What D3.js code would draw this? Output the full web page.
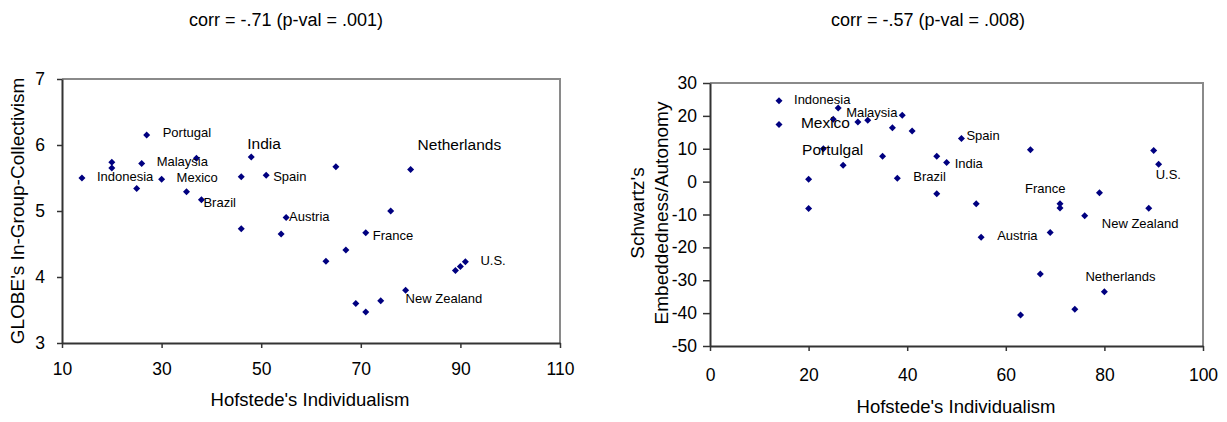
<!DOCTYPE html>
<html>
<head>
<meta charset="utf-8">
<script src="https://cdn.jsdelivr.net/npm/d3@7"></script>
<style>
  html, body { margin: 0; padding: 0; background: #fff; }
  svg { display: block; font-family: "Liberation Sans", Arial, sans-serif; }
</style>
</head>
<body>
<svg id="chart" width="1227" height="422"></svg>
<script>
// ---------- data ----------
const leftTitle = "corr = -.71 (p-val = .001)";
const rightTitle = "corr = -.57 (p-val = .008)";
const xAxisTitle = "Hofstede's Individualism";
const leftYTitle = "GLOBE's In-Group-Collectivism";
const rightYTitle = ["Schwartz's", "Embeddedness/Autonomy"];

const leftXTicks = [10, 30, 50, 70, 90, 110];
const leftYTicks = [3, 4, 5, 6, 7];
const rightXTicks = [0, 20, 40, 60, 80, 100];
const rightYTicks = [-50, -40, -30, -20, -10, 0, 10, 20, 30];

const leftIndividualism = [14, 20, 20, 27, 26, 25, 30, 37, 35, 38, 46, 48, 51, 55, 46, 54, 65, 80, 76, 71, 67, 63, 91, 90, 89, 79, 74, 69, 71];
const leftCollectivism  = [5.50, 5.74, 5.65, 6.15, 5.72, 5.34, 5.48, 5.80, 5.29, 5.17, 5.52, 5.82, 5.54, 4.90, 4.73, 4.65, 5.67, 5.63, 5.00, 4.67, 4.41, 4.24, 4.23, 4.16, 4.10, 3.80, 3.64, 3.60, 3.47];

const rightIndividualism = [14, 14, 26, 25, 30, 32, 39, 37, 41, 23, 35, 27, 20, 38, 20, 51, 46, 48, 65, 90, 91, 46, 54, 79, 71, 71, 76, 89, 55, 69, 67, 80, 74, 63];
const rightEmbeddedness  = [24.6, 17.4, 22.4, 19.0, 18.1, 18.7, 20.2, 16.4, 15.4, 10.0, 7.7, 5.0, 0.7, 1.0, -8.2, 13.1, 7.7, 5.8, 9.7, 9.5, 5.3, -3.7, -6.7, -3.4, -6.7, -8.0, -10.4, -8.1, -16.9, -15.5, -28.1, -33.5, -38.8, -40.6];

const leftLabelNames   = ["Portugal", "India", "Malaysia", "Indonesia", "Mexico", "Brazil", "Spain", "Austria", "Netherlands", "France", "U.S.", "New Zealand"];
const leftLabelPoint   = [3, 11, 4, 0, 6, 9, 12, 13, 17, 19, 22, 25];
const rightLabelNames  = ["Indonesia", "Malaysia", "Mexico", "Portulgal", "Brazil", "Spain", "India", "France", "U.S.", "New Zealand", "Austria", "Netherlands"];
const rightLabelPoint  = [0, 2, 4, 11, 13, 15, 17, 24, 20, 27, 28, 31];

// ---------- layout (pixel offsets / sizes, not data) ----------
const leftLabelLayout = [
  {dx: 16, dy: 2, big: false}, {dx: -4, dy: -8, big: true}, {dx: 15, dy: 3, big: false},
  {dx: 15, dy: 3, big: false}, {dx: 15, dy: 3, big: false}, {dx: 2, dy: 7, big: false},
  {dx: 7, dy: 6, big: false}, {dx: 3, dy: 3, big: false}, {dx: 7, dy: -19, big: true},
  {dx: 7, dy: 7, big: false}, {dx: 15, dy: 3, big: false}, {dx: 0, dy: 13, big: false}
];
const rightLabelLayout = [
  {dx: 15, dy: 3, big: false}, {dx: 8, dy: 9, big: false}, {dx: -57, dy: 6, big: true},
  {dx: -41, dy: -10, big: true}, {dx: 16, dy: 3, big: false}, {dx: 5, dy: 1, big: false},
  {dx: 8, dy: 5, big: false}, {dx: -35, dy: -11, big: false}, {dx: -3, dy: 15, big: false},
  {dx: -47, dy: 20, big: false}, {dx: 16, dy: 3, big: false}, {dx: -19, dy: -11, big: false}
];

const svg = d3.select("#chart");
const MARK = "#000080";

function diamond(r) { return `M0,${-r}L${r},0L0,${r}L${-r},0Z`; }

function drawPanel(cfg) {
  const x = d3.scaleLinear().domain(cfg.xDomain).range([cfg.left, cfg.right]);
  const y = d3.scaleLinear().domain(cfg.yDomain).range([cfg.bottom, cfg.top]);
  const g = svg.append("g");

  // title
  g.append("text").attr("x", cfg.titleX).attr("y", cfg.titleY)
    .attr("text-anchor", "middle").attr("font-size", 18).attr("fill", "#000")
    .text(cfg.title);

  // plot border (top/right grey)
  g.append("path")
    .attr("d", `M${cfg.left},${cfg.top}H${cfg.right}V${cfg.bottom}`)
    .attr("fill", "none").attr("stroke", "#8a8a8a").attr("stroke-width", 2);

  // axes
  const xAxis = d3.axisBottom(x).tickValues(cfg.xTicks).tickSizeInner(5).tickSizeOuter(0).tickPadding(cfg.xPad).tickFormat(d => String(d));
  const yAxis = d3.axisLeft(y).tickValues(cfg.yTicks).tickSizeInner(cfg.yTick).tickSizeOuter(0).tickPadding(cfg.yPad).tickFormat(d => String(d));

  const gx = g.append("g").attr("transform", `translate(0,${cfg.bottom})`).call(xAxis);
  const gy = g.append("g").attr("transform", `translate(${cfg.left},0)`).call(yAxis);
  [gx, gy].forEach(a => {
    a.select(".domain").attr("stroke", "#333").attr("stroke-width", 2);
    a.selectAll(".tick line").attr("stroke", "#333").attr("stroke-width", 1.5);
    a.selectAll(".tick text").attr("font-size", 17.5).attr("fill", "#000")
      .attr("font-family", '"Liberation Sans", Arial, sans-serif');
  });
  gx.selectAll(".tick text").attr("dy", null).attr("y", cfg.xLabelBase).attr("dominant-baseline", "alphabetic");

  // axis titles
  g.append("text").attr("x", cfg.xTitleX).attr("y", cfg.xTitleY)
    .attr("text-anchor", "middle").attr("font-size", 18.5).attr("fill", "#000")
    .text(xAxisTitle);
  cfg.yTitles.forEach((t, i) => {
    g.append("text")
      .attr("transform", `translate(${cfg.yTitleX[i]},${cfg.yTitleY}) rotate(-90)`)
      .attr("text-anchor", "middle").attr("dominant-baseline", "central")
      .attr("font-size", 19).attr("fill", "#000")
      .text(t);
  });

  // points
  g.append("g").selectAll("path").data(cfg.xs.map((v, i) => [v, cfg.ys[i]]))
    .join("path")
    .attr("d", diamond(3.5))
    .attr("transform", d => `translate(${x(d[0])},${y(d[1])})`)
    .attr("fill", MARK);

  // labels
  g.append("g").selectAll("text").data(cfg.labelNames.map((n, i) => ({n, p: cfg.labelPoint[i], l: cfg.labelLayout[i]})))
    .join("text")
    .attr("x", d => x(cfg.xs[d.p]) + d.l.dx)
    .attr("y", d => y(cfg.ys[d.p]) + d.l.dy)
    .attr("font-size", d => d.l.big ? 15.5 : 13)
    .attr("fill", "#000")
    .text(d => d.n);
}

drawPanel({
  xDomain: [10, 110], yDomain: [3, 7],
  left: 62, right: 560, top: 79, bottom: 343,
  xTicks: leftXTicks, yTicks: leftYTicks,
  yTick: 5, yPad: 12, xPad: 10, xLabelBase: 32,
  title: leftTitle, titleX: 286, titleY: 26,
  xTitleX: 310, xTitleY: 406,
  yTitles: [leftYTitle], yTitleX: [17], yTitleY: 211,
  xs: leftIndividualism, ys: leftCollectivism,
  labelNames: leftLabelNames, labelPoint: leftLabelPoint, labelLayout: leftLabelLayout
});

drawPanel({
  xDomain: [0, 100], yDomain: [-50, 30],
  left: 710, right: 1203, top: 83, bottom: 346,
  xTicks: rightXTicks, yTicks: rightYTicks,
  yTick: 7, yPad: 6, xPad: 10, xLabelBase: 35,
  title: rightTitle, titleX: 928, titleY: 26,
  xTitleX: 956, xTitleY: 413,
  yTitles: rightYTitle, yTitleX: [637, 661], yTitleY: 213,
  xs: rightIndividualism, ys: rightEmbeddedness,
  labelNames: rightLabelNames, labelPoint: rightLabelPoint, labelLayout: rightLabelLayout
});
</script>
</body>
</html>
